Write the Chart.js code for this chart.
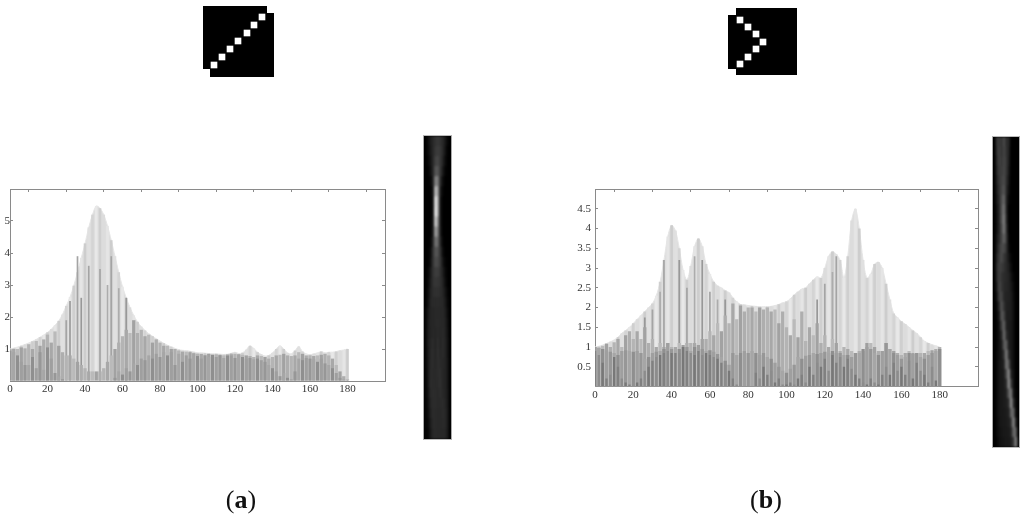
<!DOCTYPE html>
<html>
<head>
<meta charset="utf-8">
<title>Radon projections</title>
<script src="https://cdn.jsdelivr.net/npm/chart.js@4/dist/chart.umd.min.js"></script>
<style>
    html, body { margin: 0; padding: 0; background: #fff; width: 1024px; height: 518px; overflow: hidden; }
    canvas { position: absolute; display: block; }
    .soft { filter: blur(0.6px); }
    .strip { position: absolute; overflow: hidden; border-left: 1px solid #aaa; border-right: 1px solid #aaa; border-top: 1px solid #bbb; border-bottom: 1px solid #bbb; background: #000; }
    .strip canvas { left: 0; top: 0; filter: blur(1.1px); }
    .cap { position: absolute; top: 485px; width: 60px; text-align: center; font: 26px "Liberation Serif", serif; color: #111; line-height: 30px; filter: blur(0.3px); }
</style>
</head>
<body>
<canvas id="thumbA" class="soft" width="90" height="85" style="left:195px;top:0"></canvas>
<canvas id="thumbB" class="soft" width="90" height="85" style="left:720px;top:0"></canvas>
<canvas id="plotA" class="soft" width="400" height="240" style="left:0;top:170px"></canvas>
<canvas id="plotB" class="soft" width="420" height="240" style="left:570px;top:170px"></canvas>
<div class="strip" style="left:423px;top:135px;width:27px;height:303px"><canvas id="stripA" width="27" height="303"></canvas></div>
<div class="strip" style="left:992px;top:136px;width:26px;height:310px"><canvas id="stripB" width="26" height="310"></canvas></div>
<div class="cap" style="left:211px">(<b>a</b>)</div>
<div class="cap" style="left:736px">(<b>b</b>)</div>

<script>
// angles of the bars, every 2 degrees
var angles = [0,2,4,6,8,10,12,14,16,18,20,22,24,26,28,30,32,34,36,38,40,42,44,46,48,50,52,54,56,58,60,62,64,66,68,70,72,74,76,78,80,82,84,86,88,90,92,94,96,98,100,102,104,106,108,110,112,114,116,118,120,122,124,126,128,130,132,134,136,138,140,142,144,146,148,150,152,154,156,158,160,162,164,166,168,170,172,174,176,178,180];

var xTickLabels = [0,20,40,60,80,100,120,140,160,180];
var yTickLabelsA = [1,2,3,4,5];
var yTickLabelsB = [0.5,1,1.5,2,2.5,3,3.5,4,4.5];

// panel a
var topA = [1.0,1.03,1.06,1.1,1.14,1.19,1.24,1.3,1.37,1.44,
    1.52,1.62,1.74,1.88,2.08,2.35,2.62,2.98,3.4,3.85,
    4.3,4.8,5.2,5.47,5.4,5.2,4.85,4.4,3.9,3.4,
    2.95,2.6,2.3,2.05,1.85,1.7,1.58,1.48,1.4,1.32,
    1.25,1.18,1.12,1.07,1.02,.98,.96,.95,.93,.91,
    .88,.88,.87,.86,.85,.85,.84,.83,.84,.87,
    .9,.86,.88,.98,1.1,1.02,.9,.83,.78,.8,
    .88,1.0,1.1,1.0,.88,.85,.95,1.08,.92,.85,
    .82,.85,.88,.92,.88,.9,.9,.92,.95,.97,1.0];
var midA = [1.0,1.0,1.0,1.05,1.02,1.15,1.0,1.25,1.1,1.3,
    1.45,1.2,1.55,1.1,.9,.8,.8,.7,.6,.5,
    .4,.3,.3,.3,.3,.4,.6,.8,1.0,1.2,
    1.4,1.6,1.5,1.9,1.5,1.6,1.4,1.45,1.2,1.3,
    1.2,1.1,1.1,1.0,1.0,.95,.92,.92,.9,.88,
    .85,.85,.82,.85,.82,.83,.82,.8,.83,.85,
    .85,.84,.82,.8,.78,.75,.8,.78,.75,.7,
    .75,.8,.82,.85,.8,.78,.8,.9,.85,.8,
    .8,.78,.8,.82,.85,.8,.7,.5,.3,.15,.05];
var spikesA = [0,0,0,0,0,0,0,0,0,0,
    0,0,0,0,0,1.9,2.5,0,3.9,2.6,
    0,3.6,0,0,3.5,0,3.0,3.9,0,2.9,
    0,2.6,0,0,0,0,0,0,0,0,
    0,0,0,0,0,0,0,0,0,0,
    0,0,0,0,0,0,0,0,0,0,
    0,0,0,0,0,0,0,0,0,0,
    0,0,0,0,0,0,0,0,0,0,
    0,0,0,0,0,0,0,0,0,0,0];
var lowA = [.95,.9,.8,.6,.5,.5,.75,.4,.9,.35,
    1.05,.7,.25,.15,.05,0,0,0,0,0,
    0,0,0,0,0,0,0,0,.1,.3,
    .2,.4,.3,.55,.5,.7,.65,.8,.7,.85,
    .75,.9,.8,.9,.5,.85,.6,.8,.7,.85,
    .78,.7,.8,.75,.82,.75,.8,.72,.78,.8,
    .72,.8,.75,.7,.72,.68,.7,.65,.6,.5,
    .4,.3,.15,.25,.1,.05,.3,.7,.65,.72,
    .7,.68,.6,.7,.55,.5,.4,.25,.1,.05,0];

// panel b
var topB = [1.0,1.02,1.05,1.09,1.13,1.18,1.25,1.35,1.42,1.5,
    1.6,1.7,1.8,1.9,2.0,2.1,2.3,2.65,3.2,3.8,
    4.08,3.95,3.5,2.95,2.7,3.05,3.55,3.75,3.55,3.1,
    2.85,2.65,2.55,2.5,2.43,2.38,2.25,2.15,2.08,2.07,
    2.05,2.04,2.03,2.02,2.02,2.02,2.03,2.05,2.08,2.12,
    2.15,2.22,2.32,2.4,2.47,2.5,2.6,2.7,2.78,2.75,
    3.0,3.3,3.42,3.35,3.2,2.75,3.3,4.2,4.5,4.0,
    3.2,2.75,2.85,3.1,3.15,3.0,2.6,2.2,1.85,1.75,
    1.65,1.58,1.5,1.42,1.35,1.25,1.15,1.1,1.06,1.03,1.0];
var midB = [1.0,.98,1.03,1.08,1.0,1.12,1.2,1.0,1.3,1.4,
    1.2,1.4,1.2,1.5,1.1,1.2,1.0,1.1,1.0,1.1,
    1.0,1.0,1.1,1.0,1.1,1.1,1.1,1.0,1.2,1.2,
    1.4,1.3,1.6,1.4,1.8,1.6,2.1,1.7,2.05,1.9,
    2.0,2.0,1.9,2.0,1.95,2.0,1.9,1.95,1.6,1.9,
    1.5,1.3,1.7,1.25,1.9,1.15,1.5,1.3,1.6,1.1,
    1.3,1.0,1.2,1.1,.9,1.0,.95,.9,.85,.9,
    .9,1.0,1.1,1.0,.9,.9,1.1,.95,.9,.85,
    .8,.85,.9,.85,.85,.85,.85,.9,.92,.95,1.0];
var spikesB = [0,0,0,0,0,0,0,0,0,0,
    0,0,0,1.75,0,1.95,0,2.4,3.2,0,
    0,0,3.2,0,2.5,0,3.3,0,3.2,0,
    2.4,0,2.2,0,2.2,0,0,0,0,0,
    0,0,0,0,0,0,0,0,0,0,
    0,0,0,0,0,0,0,0,2.2,0,
    2.6,0,2.9,3.3,0,0,0,0,0,0,
    0,0,0,0,0,0,0,0,0,0,
    0,0,0,0,0,0,0,0,0,0,0];
var lowB = [1.0,.98,.95,.92,.88,.85,.8,.9,.92,.9,
    .88,.9,.85,.7,.75,.85,.88,.9,.95,1.1,
    .95,.85,.95,1.05,1.0,.9,1.0,1.05,.95,.9,
    .92,.88,.82,.75,.65,.55,.85,.8,.85,.9,
    .85,.9,.85,.8,.85,.75,.7,.6,.5,.4,
    .35,.45,.55,.75,.7,.78,.8,.85,.82,.85,
    .88,.85,.9,.85,.85,.8,.8,.75,.85,.85,
    .95,1.1,.95,.85,.8,.9,1.1,.95,.85,.8,
    .7,.75,.85,.82,.85,.75,.7,.8,.85,.9,.95];
var deepB = [.9,.8,.6,.2,.3,.75,.5,.2,.1,.05,
    0,.1,.2,.4,.5,.65,.75,.8,.85,.9,
    .85,.85,.85,1.0,.9,.85,.8,.9,.8,.85,
    .8,.75,.7,.6,.55,.4,.2,.05,0,0,
    0,0,.35,.2,.5,.3,.4,.1,.2,.05,
    .05,.1,.05,.2,.3,.1,.5,.3,.6,.5,
    .7,.4,.8,.6,.75,.5,.7,.45,.3,.2,
    .1,.05,.2,.1,.05,.3,.5,.3,.6,.4,
    .5,.3,.65,.2,.6,.4,.3,.1,.5,.15,0];

// grey level of each cell of the strips, top to bottom, left to right
var stripRowsA = [
    [0,12,30,40,50,55,50,40,25,5,0],
    [0,10,25,40,55,60,55,40,20,0,0],
    [0,5,20,40,65,70,55,35,12,0,0],
    [0,0,15,40,85,85,55,25,5,0,0],
    [0,0,5,35,130,120,45,12,0,0,0],
    [0,0,0,25,190,150,30,5,0,0,0],
    [0,0,0,20,235,170,22,0,0,0,0],
    [0,0,0,20,240,170,22,0,0,0,0],
    [0,0,0,25,210,140,25,0,0,0,0],
    [0,0,0,30,160,120,30,0,0,0,0],
    [0,0,5,40,115,100,40,5,0,0,0],
    [0,0,10,50,85,80,50,12,0,0,0],
    [0,0,15,50,75,70,55,20,5,0,0],
    [0,5,25,50,60,60,50,30,10,0,0],
    [0,8,30,48,55,52,48,35,15,0,0],
    [0,12,35,45,48,48,45,38,22,5,0],
    [0,15,38,42,42,42,42,40,28,8,0],
    [5,22,38,38,40,40,40,40,32,12,0],
    [5,25,38,38,40,42,40,40,35,15,0],
    [5,28,36,40,38,42,38,42,35,18,0],
    [5,28,38,44,36,46,36,44,36,20,0],
    [5,26,40,46,36,48,38,44,36,20,0],
    [5,24,42,44,38,46,42,40,36,22,0],
    [5,22,44,42,40,44,46,38,36,22,0],
    [5,20,46,42,42,42,48,38,36,22,0],
    [5,18,42,44,44,40,46,40,36,24,0],
    [5,15,38,44,44,40,42,44,38,24,0],
    [5,12,34,44,42,40,40,44,40,26,0],
    [5,8,30,42,42,40,40,42,40,26,0],
    [5,5,26,40,42,40,40,40,38,24,0]
];
var stripRowsB = [
    [0,55,60,50,75,45,40,0,0,0,0],
    [0,50,65,50,70,50,35,0,0,0,0],
    [0,45,65,55,70,55,30,0,0,0,0],
    [0,40,60,60,70,55,25,0,0,0,0],
    [0,35,55,65,75,50,20,0,0,0,0],
    [0,30,50,70,85,45,15,0,0,0,0],
    [0,25,45,80,105,40,8,0,0,0,0],
    [0,20,40,85,120,40,0,0,0,0,0],
    [0,18,40,85,130,45,0,0,0,0,0],
    [0,18,40,75,125,55,0,0,0,0,0],
    [0,25,45,70,100,60,5,0,0,0,0],
    [0,30,55,75,75,50,12,0,0,0,0],
    [0,38,60,75,55,42,22,5,0,0,0],
    [0,45,65,60,50,40,30,12,0,0,0],
    [0,42,65,50,45,40,35,20,5,0,0],
    [0,32,70,55,42,38,35,25,10,0,0],
    [0,22,65,70,40,35,35,28,12,0,0],
    [0,12,45,85,50,32,32,28,15,0,0],
    [0,8,28,90,70,30,30,28,15,0,0],
    [0,5,20,65,100,35,28,25,15,0,0],
    [0,5,18,40,110,50,28,25,15,0,0],
    [0,5,18,28,90,95,30,25,15,0,0],
    [0,8,20,25,55,125,45,25,15,0,0],
    [0,8,22,25,38,120,85,25,15,0,0],
    [0,10,22,25,30,75,140,35,18,0,0],
    [0,10,22,25,28,45,145,65,18,0,0],
    [0,10,22,25,28,35,95,125,22,5,0],
    [0,12,22,25,28,30,50,145,50,8,0],
    [0,12,22,25,26,28,35,100,105,12,0],
    [0,10,20,25,25,28,30,50,140,40,0],
    [0,8,18,22,25,25,28,35,105,95,0],
    [0,5,15,20,22,25,25,30,55,130,15]
];

// little source images: centres of the black blocks and of the white cells
var blocksXA = [[8,72], [15,79]];
var blocksYA = [37.5, 45];
var cellsA = [{x:19,y:65},{x:27,y:57},{x:35,y:49},{x:43,y:41},{x:52,y:33},{x:59,y:25},{x:67,y:17}];
var blocksXB = [[8,40], [16,77]];
var blocksYB = [42, 41.5];
var cellsB = [{x:20,y:20},{x:28,y:27},{x:36,y:34},{x:43,y:42},{x:36,y:49},{x:28,y:57},{x:20,y:64}];

var shadesTop = ['#e0e0e0','#d4d4d4','#e8e8e8','#cfcfcf','#dcdcdc','#e5e5e5','#cdcdcd'];
var shadesMid = ['#b4b4b4','#a8a8a8','#bababa','#a2a2a2','#aeaeae'];
var shadesSpike = ['#a4a4a4','#989898','#acacac'];
var shadesLow = ['#979797','#a6a6a6','#8f8f8f','#9f9f9f'];
var shadesDeep = ['#808080','#8c8c8c','#787878'];

var tickFont = { family: '"Liberation Serif", serif', size: 11 };

function stripes(values, shades) {
    var colours = [];
    for (var i = 0; i < values.length; i++) {
        colours.push(shades[i % shades.length]);
    }
    return colours;
}

function layer(values, shades, width) {
    return {
        data: values,
        backgroundColor: stripes(values, shades),
        borderWidth: 0,
        barPercentage: width,
        categoryPercentage: 1
    };
}

// smooth light outline behind the stripes
function envelope(values) {
    return {
        type: 'line',
        order: 5,
        data: values,
        fill: 'origin',
        tension: 0.3,
        pointRadius: 0,
        borderWidth: 1,
        borderColor: '#e6e6e6',
        backgroundColor: '#dedede'
    };
}

function drawPlot(id, layers, yMax, yStep, yLabels, sizes) {
    new Chart(document.getElementById(id), {
        type: 'bar',
        data: { labels: angles, datasets: layers },
        options: {
            responsive: false,
            animation: false,
            layout: { padding: 0, autoPadding: false },
            plugins: { legend: { display: false }, tooltip: { enabled: false } },
            scales: {
                x: {
                    type: 'linear', position: 'bottom', stacked: true, offset: false, min: 0, max: 200,
                    border: { color: '#8a8a8a' },
                    grid: { drawOnChartArea: false, tickLength: -3, color: '#8a8a8a', offset: false },
                    ticks: {
                        stepSize: 20, autoSkip: false, maxRotation: 0, padding: sizes.xPad,
                        color: '#333', font: tickFont,
                        callback: function(v) { return xTickLabels.indexOf(v) >= 0 ? String(v) : ''; }
                    },
                    afterFit: function(s) { s.height = sizes.bottom; }
                },
                x2: {
                    type: 'linear', position: 'top', offset: false, min: 0, max: 200,
                    border: { color: '#8a8a8a' },
                    grid: { drawOnChartArea: false, tickLength: -3, color: '#8a8a8a' },
                    ticks: { stepSize: 20, display: false },
                    afterFit: function(s) { s.height = sizes.top; }
                },
                y: {
                    type: 'linear', position: 'left', stacked: false, min: 0, max: yMax,
                    border: { color: '#8a8a8a' },
                    grid: { drawOnChartArea: false, tickLength: -3, color: '#8a8a8a' },
                    ticks: {
                        stepSize: yStep, autoSkip: false, padding: sizes.yPad,
                        color: '#333', font: tickFont,
                        callback: function(v) { return yLabels.indexOf(v) >= 0 ? String(v) : ''; }
                    },
                    afterFit: function(s) { s.width = sizes.left; }
                },
                y2: {
                    type: 'linear', position: 'right', min: 0, max: yMax,
                    border: { color: '#8a8a8a' },
                    grid: { drawOnChartArea: false, tickLength: -3, color: '#8a8a8a' },
                    ticks: { stepSize: yStep, display: false },
                    afterFit: function(s) { s.width = sizes.right; }
                }
            }
        }
    });
}

function drawThumb(id, blocksX, blocksY, cells) {
    var sets = [{
        data: cells, showLine: false, pointStyle: 'rect', pointRadius: 4.7,
        backgroundColor: '#fff', borderWidth: 0
    }];
    for (var i = 0; i < blocksX.length; i++) {
        sets.push({
            data: [{ x: blocksX[i][0], y: blocksY[i] }, { x: blocksX[i][1], y: blocksY[i] }],
            showLine: true, pointRadius: 0, borderColor: '#000', borderCapStyle: 'butt',
            borderWidth: i == 0 ? (id == 'thumbA' ? 63 : 54) : (id == 'thumbA' ? 64 : 67)
        });
    }
    new Chart(document.getElementById(id), {
        type: 'scatter',
        data: { datasets: sets },
        options: {
            responsive: false,
            animation: false,
            layout: { padding: 0, autoPadding: false },
            plugins: { legend: { display: false }, tooltip: { enabled: false } },
            scales: {
                x: { display: false, min: 0, max: 90 },
                y: { display: false, min: 0, max: 85, reverse: true }
            }
        }
    });
}

function drawStrip(id, rows) {
    var sets = [];
    var labels = [];
    for (var r = 0; r < rows.length; r++) {
        labels.push(r);
    }
    for (var c = 0; c < rows[0].length; c++) {
        var widths = [];
        var greys = [];
        for (var k = 0; k < rows.length; k++) {
            var g = rows[k][c];
            widths.push(1);
            greys.push('rgb(' + g + ',' + g + ',' + g + ')');
        }
        sets.push({ data: widths, backgroundColor: greys, borderWidth: 0, barPercentage: 1, categoryPercentage: 1 });
    }
    new Chart(document.getElementById(id), {
        type: 'bar',
        data: { labels: labels, datasets: sets },
        options: {
            indexAxis: 'y',
            responsive: false,
            animation: false,
            layout: { padding: 0, autoPadding: false },
            plugins: { legend: { display: false }, tooltip: { enabled: false } },
            scales: {
                x: { display: false, stacked: true, min: 0, max: rows[0].length },
                y: { display: false, stacked: true }
            }
        }
    });
}

// first dataset ends up on top
drawPlot('plotA', [layer(lowA, shadesLow, 0.8), layer(midA, shadesMid, 0.88), layer(spikesA, shadesSpike, 0.45), layer(topA, shadesTop, 0.7), envelope(topA)],
    6, 1, yTickLabelsA, { left: 10, right: 15, top: 19, bottom: 29, xPad: 5, yPad: 3 });
drawPlot('plotB', [layer(deepB, shadesDeep, 0.6), layer(lowB, shadesLow, 0.85), layer(midB, shadesMid, 0.85), layer(spikesB, shadesSpike, 0.45), layer(topB, shadesTop, 0.7), envelope(topB)],
    5, 0.5, yTickLabelsB, { left: 25, right: 12, top: 19, bottom: 23.5, xPad: 5, yPad: 7 });

drawThumb('thumbA', blocksXA, blocksYA, cellsA);
drawThumb('thumbB', blocksXB, blocksYB, cellsB);

drawStrip('stripA', stripRowsA);
drawStrip('stripB', stripRowsB);
</script>
</body>
</html>
